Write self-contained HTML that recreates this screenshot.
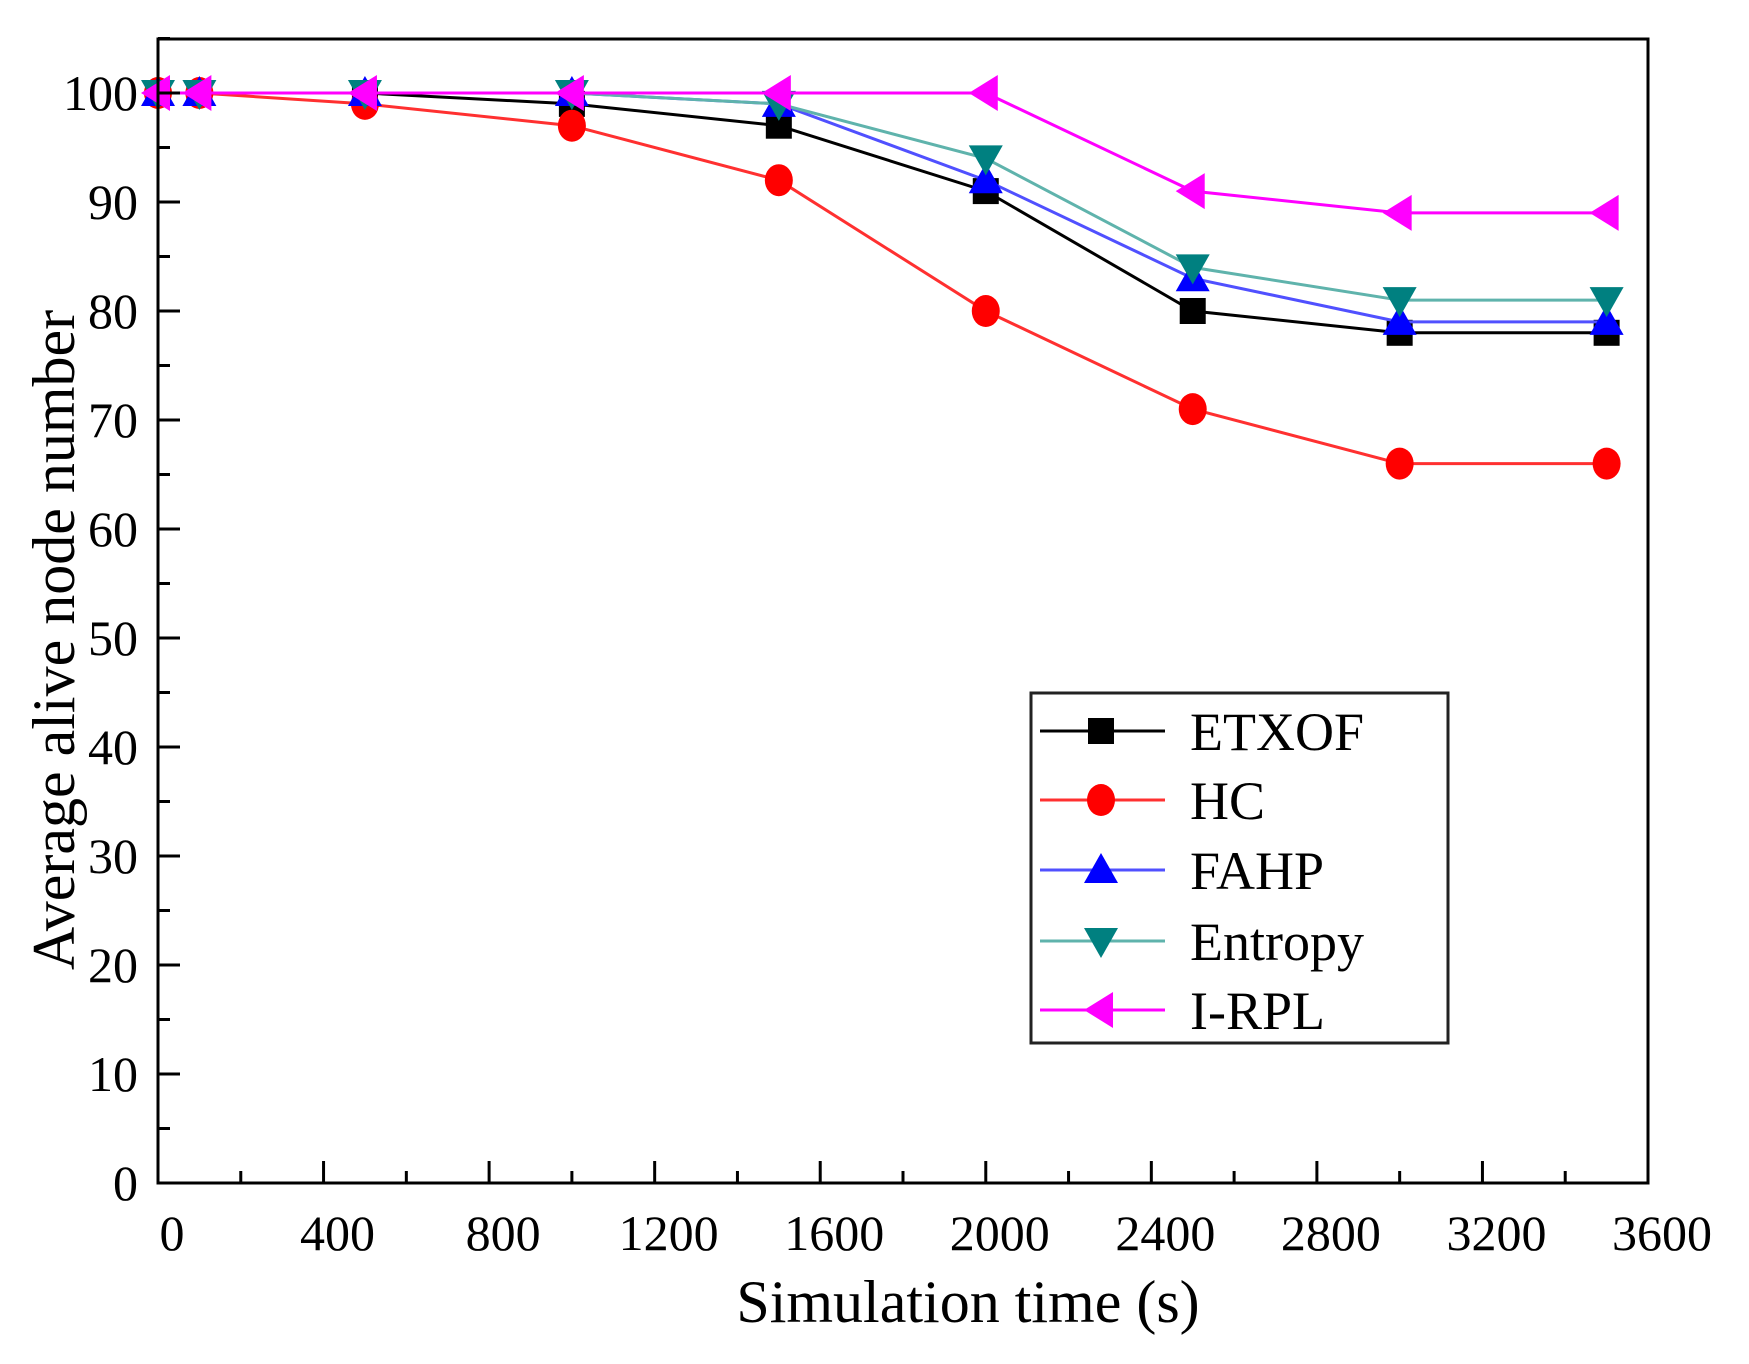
<!DOCTYPE html>
<html><head><meta charset="utf-8"><style>
html,body{margin:0;padding:0;background:#fff;}
svg{display:block;font-family:"Liberation Serif",serif;}
</style></head><body>
<svg id="chart" width="1749" height="1364" viewBox="0 0 1749 1364" xmlns="http://www.w3.org/2000/svg">
<rect x="0" y="0" width="1749" height="1364" fill="#fff"/>
<g id="plot"></g>
<rect x="158" y="39" width="1490" height="1144" fill="none" stroke="#000" stroke-width="3"/>
<g id="axes"></g>
<text x="968" y="1322" font-size="60" text-anchor="middle">Simulation time (s)</text>
<text transform="translate(74,640) rotate(-90)" font-size="60" text-anchor="middle">Average alive node number</text>
<g id="legend"></g>
</svg>
<script>
const xValues = [0, 100, 500, 1000, 1500, 2000, 2500, 3000, 3500];
const etxof = [100, 100, 100, 99, 97, 91, 80, 78, 78];
const hc = [100, 100, 99, 97, 92, 80, 71, 66, 66];
const fahp = [100, 100, 100, 100, 99, 92, 83, 79, 79];
const entropy = [100, 100, 100, 100, 99, 94, 84, 81, 81];
const irpl = [100, 100, 100, 100, 100, 100, 91, 89, 89];
const seriesNames = ["ETXOF", "HC", "FAHP", "Entropy", "I-RPL"];
const xTicks = [0, 400, 800, 1200, 1600, 2000, 2400, 2800, 3200, 3600];
const yTicks = [0, 10, 20, 30, 40, 50, 60, 70, 80, 90, 100];

const NS = "http://www.w3.org/2000/svg";
const X0 = 158, X1 = 1648, Y0 = 1183, Y100 = 93;
function sx(v){ return X0 + (v/3600)*(X1-X0); }
function sy(v){ return Y0 - (v/100)*(Y0-Y100); }
function mk(tag, attrs, parent){ const e=document.createElementNS(NS,tag); for(const k in attrs) e.setAttribute(k, attrs[k]); parent.appendChild(e); return e; }

const axes = document.getElementById('axes');
for (let v = 0; v <= 3600; v += 200) {
  const major = v % 400 === 0;
  const t = mk('line', {x1:sx(v), x2:sx(v), y1:Y0, y2:Y0-(major?22:12), stroke:'#000', 'stroke-width':3}, axes);
  
  
}
xTicks.forEach(v => {
  const t = mk('text', {x:sx(v)+14, y:1250, 'font-size':50, 'text-anchor':'middle'}, axes);
  t.textContent = v;
  
  
});
for (let v = 0; v <= 105; v += 5) {
  const major = v % 10 === 0;
  const t = mk('line', {x1:X0, x2:X0+(major?22:12), y1:sy(v), y2:sy(v), stroke:'#000', 'stroke-width':3}, axes);
  
  
}
yTicks.forEach(v => {
  const t = mk('text', {x:138, y:sy(v)+17, 'font-size':50, 'text-anchor':'end'}, axes);
  t.textContent = v;
  
  
});

const styles = [
  {data: etxof, line:'#000', fill:'#000', shape:'square'},
  {data: hc, line:'#ff3030', fill:'#ff0000', shape:'circle'},
  {data: fahp, line:'#5050ff', fill:'#0000ff', shape:'up'},
  {data: entropy, line:'#5fb3ac', fill:'#008080', shape:'down'},
  {data: irpl, line:'#ff00ff', fill:'#ff00ff', shape:'left'}
];
function marker(shape, cx, cy, fill, parent){
  let e;
  if (shape==='square') e = mk('rect', {x:cx-13, y:cy-13, width:26, height:26, fill:fill}, parent);
  else if (shape==='circle') e = mk('ellipse', {cx:cx, cy:cy, rx:14, ry:16, fill:fill}, parent);
  else if (shape==='up') e = mk('polygon', {points:`${cx},${cy-17} ${cx-17},${cy+13} ${cx+17},${cy+13}`, fill:fill}, parent);
  else if (shape==='down') e = mk('polygon', {points:`${cx},${cy+17} ${cx-17},${cy-13} ${cx+17},${cy-13}`, fill:fill}, parent);
  else e = mk('polygon', {points:`${cx-17},${cy} ${cx+12},${cy-18} ${cx+12},${cy+18}`, fill:fill}, parent);
  return e;
}
const plot = document.getElementById('plot');
styles.forEach((s, i) => {
  const g = mk('g', {}, plot);
  
  
  const pts = s.data.map((v, j) => sx(xValues[j]) + ',' + sy(v)).join(' ');
  const pl = mk('polyline', {points:pts, fill:'none', stroke:s.line, 'stroke-width':3}, g);
  
  
  s.data.forEach((v, j) => {
    const m = marker(s.shape, sx(xValues[j]), sy(v), s.fill, g);
    
    
  });
});

const legend = document.getElementById('legend');
const box = mk('rect', {x:1031, y:693, width:417, height:350, fill:'#fff', stroke:'#222', 'stroke-width':3}, legend);


const rowY = [731, 800, 870, 941, 1010];
styles.forEach((s, i) => {
  const g = mk('g', {}, legend);
  
  
  mk('line', {x1:1040, x2:1165, y1:rowY[i], y2:rowY[i], stroke:s.line, 'stroke-width':3}, g);
  marker(s.shape, 1101, rowY[i], s.fill, g);
  const t = mk('text', {x:1190, y:rowY[i]+19, 'font-size':54}, g);
  t.textContent = seriesNames[i];
});
</script>
</body></html>
